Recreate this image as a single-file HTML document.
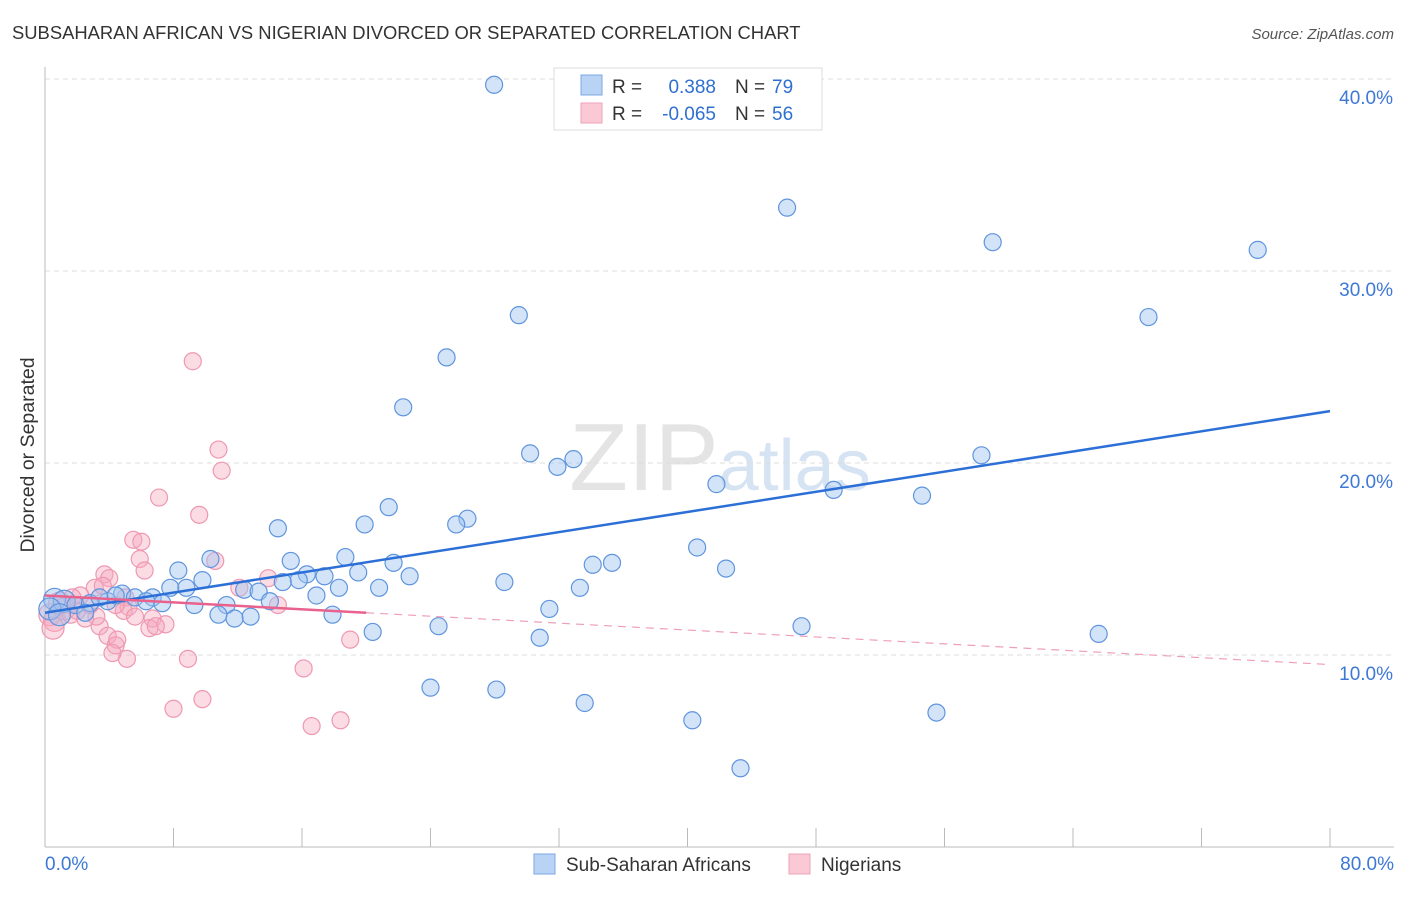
<!DOCTYPE html>
<html><head><meta charset="utf-8"><style>
body{margin:0;background:#fff;font-family:"Liberation Sans",sans-serif;}
svg text{font-family:"Liberation Sans",sans-serif;}
</style></head><body>
<svg id="chart" width="1406" height="892" xmlns="http://www.w3.org/2000/svg">
<text x="12" y="39" font-size="18.4" fill="#333">SUBSAHARAN AFRICAN VS NIGERIAN DIVORCED OR SEPARATED CORRELATION CHART</text>
<text x="1394" y="39" font-size="15" fill="#555" text-anchor="end" font-style="italic">Source: ZipAtlas.com</text>
<text x="720" y="490" font-size="96" text-anchor="middle" fill="#e4e4e4" font-family="Liberation Serif"><tspan>ZIP</tspan><tspan fill="#d6e3f3" font-family="Liberation Sans" font-size="72">atlas</tspan></text>
<g id="grid"></g>
<g id="axes"></g>
<text transform="translate(34,455) rotate(-90)" font-size="19.5" fill="#333" text-anchor="middle">Divorced or Separated</text>
<g id="marks"></g>
<g id="trends"></g>
<g>
<rect x="554" y="68" width="268" height="62" fill="#fff" stroke="#ddd"/>
<rect x="581" y="75" width="21" height="20" fill="#b9d3f5" stroke="#7aa7e3"/>
<rect x="581" y="103" width="21" height="20" fill="#fbc8d6" stroke="#eea3b9"/>
<text x="612" y="93" font-size="19" fill="#333">R =</text>
<text x="716" y="93" font-size="19" fill="#2f6fd0" text-anchor="end">0.388</text>
<text x="735" y="93" font-size="19" fill="#333">N =</text>
<text x="772" y="93" font-size="19" fill="#2f6fd0">79</text>
<text x="612" y="120" font-size="19" fill="#333">R =</text>
<text x="716" y="120" font-size="19" fill="#2f6fd0" text-anchor="end">-0.065</text>
<text x="735" y="120" font-size="19" fill="#333">N =</text>
<text x="772" y="120" font-size="19" fill="#2f6fd0">56</text>
</g>
<g>
<rect x="534" y="854" width="21" height="20" fill="#b9d3f5" stroke="#7aa7e3"/>
<text x="566" y="871" font-size="19" fill="#333">Sub-Saharan Africans</text>
<rect x="789" y="854" width="21" height="20" fill="#fbc8d6" stroke="#eea3b9"/>
<text x="821" y="871" font-size="19" fill="#333">Nigerians</text>
</g>
</svg>
<script>
const yTicks=[10,20,30,40];
const yTickLabels=["10.0%","20.0%","30.0%","40.0%"];
const xTicks=[0,8,16,24,32,40,48,56,64,72,80];
const xEndLabels=["0.0%","80.0%"];
const blueX=[27.96,46.2,59.0,75.5,68.7,29.5,25.0,22.3,30.2,31.9,32.9,58.3,41.8,49.1,54.6,21.4,26.3,25.6,19.9,14.5,40.6,10.3,18.7,15.3,21.7,34.1,35.3,42.4,8.3,19.5,16.3,17.4,22.7,15.8,14.8,9.8,28.6,18.3,20.8,33.3,7.8,8.8,12.4,13.3,16.9,14.0,4.8,6.7,5.6,3.9,6.3,7.3,9.3,11.3,31.4,17.9,10.8,12.8,11.8,24.5,47.1,20.4,30.8,65.6,24.0,28.1,33.6,40.3,55.5,43.3,0.6,1.2,1.9,2.8,3.4,0.3,2.5,4.4,0.9];
const blueY=[39.7,33.3,31.5,31.1,27.6,27.7,25.5,22.9,20.5,19.8,20.2,20.4,18.9,18.6,18.3,17.7,17.1,16.8,16.8,16.6,15.6,15.0,15.1,14.9,14.8,14.7,14.8,14.5,14.4,14.3,14.2,14.1,14.1,13.9,13.8,13.9,13.8,13.5,13.5,13.5,13.5,13.5,13.4,13.3,13.1,12.8,13.2,13.0,13.0,12.8,12.8,12.7,12.6,12.6,12.4,12.1,12.1,12.0,11.9,11.5,11.5,11.2,10.9,11.1,8.3,8.2,7.5,6.6,7.0,4.1,12.9,12.8,12.6,12.7,13.0,12.4,12.2,13.1,12.1];
const pinkX=[9.2,10.8,11.0,7.1,9.6,5.5,6.0,5.9,6.2,10.6,3.7,4.0,13.9,12.1,3.1,3.6,2.2,5.0,5.2,14.5,4.9,4.4,5.6,6.7,6.5,7.5,6.9,3.4,3.2,3.9,4.4,4.5,5.1,4.2,8.9,19.0,16.1,9.8,8.0,16.6,18.4,0.3,0.6,1.2,1.6,2.0,2.5,0.9,2.8,1.7,0.5];
const pinkY=[25.3,20.7,19.6,18.2,17.3,16.0,15.9,15.0,14.4,14.9,14.2,14.0,14.0,13.5,13.5,13.6,13.1,13.0,12.5,12.6,12.3,12.6,12.0,11.9,11.4,11.6,11.5,11.5,12.0,11.0,10.5,10.8,9.8,10.1,9.8,10.8,9.3,7.7,7.2,6.3,6.6,12.1,11.8,12.4,12.1,12.3,11.9,12.7,12.6,13.0,11.4];
const blueTrend=[12.2,22.7];
const pinkTrend=[13.1,9.5];
const pinkSolidEnd=20;
const NS="http://www.w3.org/2000/svg";
const X0=45,X1=1330,Y0=847,YPER=19.2;
function xs(v){return X0+(X1-X0)*v/80;}
function ys(v){return Y0-v*YPER;}
function mk(tag,attrs,parent){const e=document.createElementNS(NS,tag);for(const k in attrs)e.setAttribute(k,attrs[k]);parent.appendChild(e);return e;}
const grid=document.getElementById('grid'),axes=document.getElementById('axes'),marks=document.getElementById('marks'),trends=document.getElementById('trends');
yTicks.forEach((t,i)=>{
 const l=mk('line',{x1:X0,x2:1394,y1:ys(t),y2:ys(t),stroke:'#ddd','stroke-dasharray':'5,4'},grid);
 
 
 const tx=mk('text',{x:1393,y:ys(t)+25,'font-size':19,fill:'#3d78d6','text-anchor':'end'},axes);
 tx.textContent=yTickLabels[i];
 
 
});
const ax=mk('line',{x1:X0,x2:X0,y1:67,y2:Y0,stroke:'#bbb'},axes);


const bx=mk('line',{x1:X0,x2:1394,y1:Y0,y2:Y0,stroke:'#bbb'},axes);


xTicks.forEach(t=>{
 const l=mk('line',{x1:xs(t),x2:xs(t),y1:Y0,y2:Y0-19,stroke:'#bbb'},axes);
 
 
});
const xl0=mk('text',{x:45,y:870,'font-size':19,fill:'#3d78d6'},axes);xl0.textContent=xEndLabels[0];


const xl1=mk('text',{x:1394,y:870,'font-size':19,fill:'#3d78d6','text-anchor':'end'},axes);xl1.textContent=xEndLabels[1];


pinkX.forEach((v,i)=>{
 const c=mk('circle',{cx:xs(v),cy:ys(pinkY[i]),r:v<1.5?11:8.5,fill:'rgba(246,168,190,0.4)',stroke:'#ee98b1','stroke-width':1.2},marks);
 
 
});
blueX.forEach((v,i)=>{
 const c=mk('circle',{cx:xs(v),cy:ys(blueY[i]),r:v<1.5?11:8.5,fill:'rgba(160,196,240,0.45)',stroke:'#5f95de','stroke-width':1.2},marks);
 
 
});
const bt=mk('line',{x1:xs(0),y1:ys(blueTrend[0]),x2:xs(80),y2:ys(blueTrend[1]),stroke:'#2c6fd6','stroke-width':2.5},trends);


const pm=pinkTrend[0]+(pinkTrend[1]-pinkTrend[0])*pinkSolidEnd/80;
const pt=mk('line',{x1:xs(0),y1:ys(pinkTrend[0]),x2:xs(pinkSolidEnd),y2:ys(pm),stroke:'#e8628d','stroke-width':2.5},trends);


const pd=mk('line',{x1:xs(pinkSolidEnd),y1:ys(pm),x2:xs(80),y2:ys(pinkTrend[1]),stroke:'#eea0b8','stroke-width':1.2,'stroke-dasharray':'8,6'},trends);


</script>
</body></html>
